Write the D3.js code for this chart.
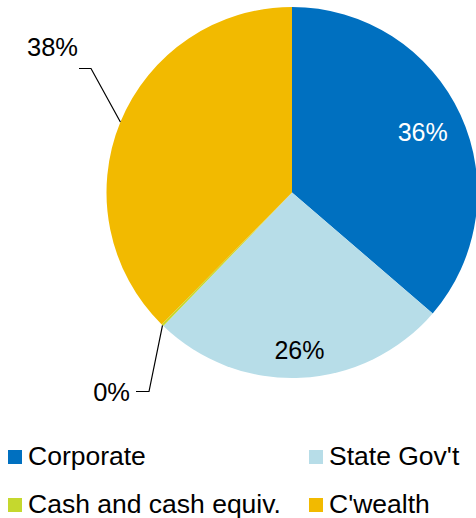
<!DOCTYPE html>
<html>
<head>
<meta charset="utf-8">
<script src="https://cdn.jsdelivr.net/npm/d3@7"></script>
<style>
  html, body { margin: 0; padding: 0; background: #fff; }
  svg { display: block; font-family: "Liberation Sans", Arial, sans-serif; }
</style>
</head>
<body>
<svg id="chart" width="476" height="518"></svg>
<script>
// Portfolio allocation by issuer type (percent)
const categories = ["Corporate", "State Gov't", "Cash and cash equiv.", "C'wealth"];
const values = [36.3, 25.9, 0.2, 37.6];
const colors = ["#0070C0", "#B7DDE8", "#C5D82E", "#F2BA00"];

const W = 476, H = 518;
const cx = 292, cy = 192.5, R = 185.5;

const svg = d3.select("#chart");

const pie = d3.pie().sort(null).value(d => d.value);
const arcs = pie(categories.map((c, i) => ({ name: c, value: values[i], color: colors[i] })));

const arc = d3.arc().innerRadius(0).outerRadius(R);
const g = svg.append("g").attr("transform", `translate(${cx},${cy})`);

g.selectAll("path.slice")
  .data(arcs)
  .join("path")
  .attr("class", "slice")
  .attr("d", arc)
  .attr("fill", d => d.data.color);

const fmt = v => Math.round(v) + "%";
const midAngle = d => (d.startAngle + d.endAngle) / 2;
const polar = (a, r) => [r * Math.sin(a), -r * Math.cos(a)];

// Label placement: inside labels sit at a fraction of the radius,
// outside labels use a bent leader line ending in a short horizontal tick.
const labelLayout = [
  { inside: true, rf: 0.775, fill: "#fff" },
  { inside: true, rf: 0.85, fill: "#000" },
  { inside: false, elbow: [-143, 199], tick: 13, textDx: -6, textDy: 9 },
  { inside: false, elbow: [-201, -124], tick: 12, textDx: -1, textDy: -13 }
];

arcs.forEach((d, i) => {
  const L = labelLayout[i];
  const a = midAngle(d);
  if (L.inside) {
    const [x, y] = polar(a, R * L.rf);
    g.append("text")
      .attr("x", x).attr("y", y)
      .attr("text-anchor", "middle")
      .attr("dy", "0.35em")
      .attr("font-size", 25)
      .attr("fill", L.fill)
      .text(fmt(d.data.value));
  } else {
    const p0 = polar(a, R);
    const p1 = L.elbow;
    const p2 = [p1[0] - L.tick, p1[1]];
    g.append("polyline")
      .attr("points", [p0, p1, p2].map(p => p.join(",")).join(" "))
      .attr("fill", "none")
      .attr("stroke", "#000")
      .attr("stroke-width", 1.2);
    g.append("text")
      .attr("x", p2[0] + L.textDx)
      .attr("y", p2[1] + L.textDy)
      .attr("text-anchor", "end")
      .attr("font-size", 25.5)
      .attr("fill", "#000")
      .text(fmt(d.data.value));
  }
});

// Legend: two columns, two rows
const legend = svg.append("g");
const colX = d3.scalePoint().domain([0, 1]).range([8, 309]);
const rowY = d3.scalePoint().domain([0, 1]).range([450, 498]);

const items = legend.selectAll("g.item")
  .data(categories.map((c, i) => ({ name: c, color: colors[i], i })))
  .join("g")
  .attr("class", "item")
  .attr("transform", d => `translate(${colX(d.i % 2)},${rowY(Math.floor(d.i / 2))})`);

items.append("rect")
  .attr("width", 14).attr("height", 14)
  .attr("fill", d => d.color);

items.append("text")
  .attr("x", 20)
  .attr("y", 14.5)
  .attr("font-size", 26.5)
  .attr("fill", "#000")
  .text(d => d.name);
</script>
</body>
</html>
